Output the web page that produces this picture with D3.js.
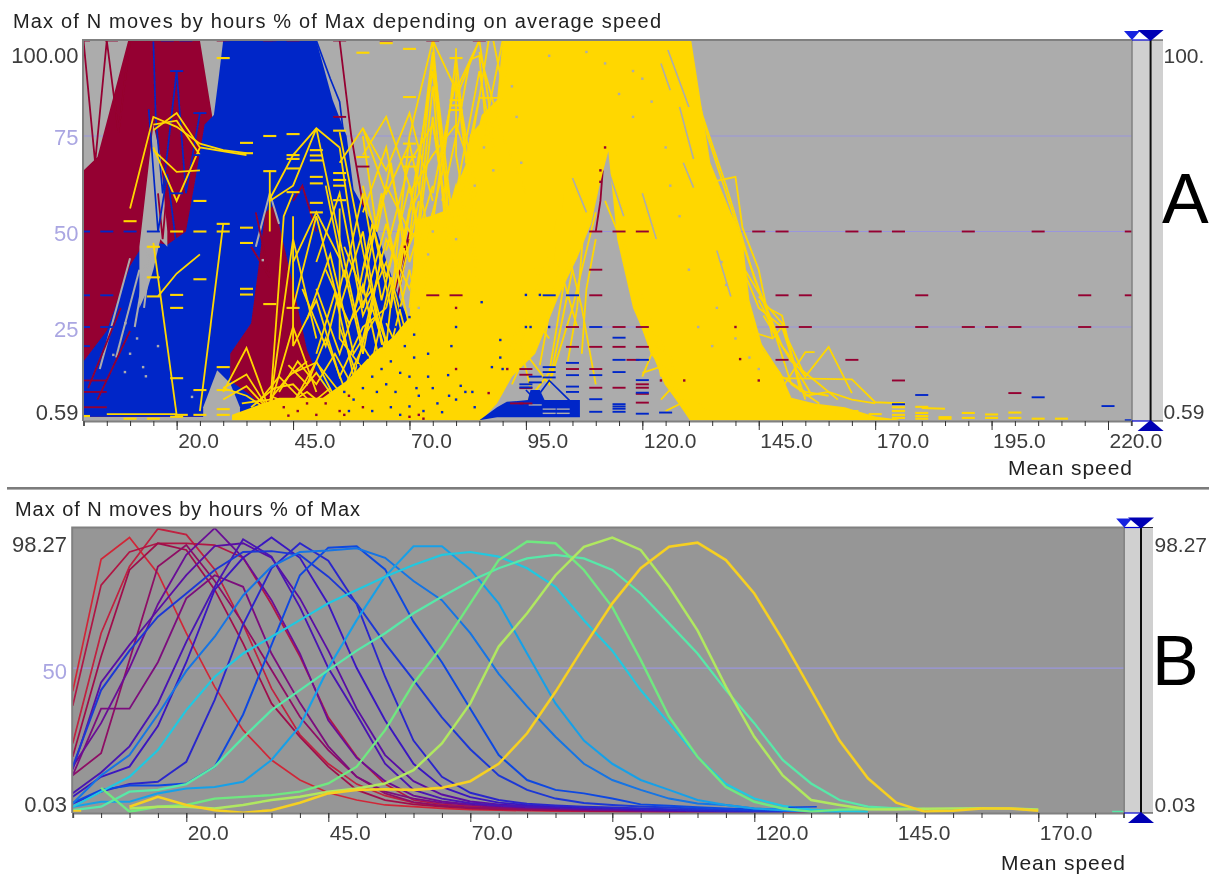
<!DOCTYPE html>
<html>
<head>
<meta charset="utf-8">
<style>
  html, body { margin: 0; padding: 0; background: #fff; }
  text { font-family: "Liberation Sans", Arial, sans-serif; }
</style>
<script src="https://cdn.jsdelivr.net/npm/d3@7/dist/d3.min.js"></script>
</head>
<body>
<svg id="chart" width="1216" height="877"></svg>
<script>
var titleA = "Max of N moves by hours % of Max depending on average speed";
var titleB = "Max of N moves by hours % of Max";
var xTitle = "Mean speed";
var speedTicks = [20, 45, 70, 95, 120, 145, 170, 195, 220];
var speedTicksB = [20, 45, 70, 95, 120, 145, 170];
var gridA = [25, 50, 75];
var gridB = [50];

// panel A, the solid masses where thousands of lines overlap: speed, upper and lower value
var redSpeed = [0, 3, 9.6, 25, 27.6, 28];
var redTop = [66, 69.5, 100, 100, 80.5, 60];

var blueSpeed = [0, 5, 10, 13, 16, 18, 22, 24, 26, 28, 29, 30, 50, 53.5, 56.5, 58, 63, 67, 72, 76, 78];
var blueTop = [16, 24, 41, 47, 47, 46.5, 50, 63.5, 78, 80.5, 90, 100, 100, 84.4, 75, 61, 50, 35, 20, 8, 1.5];

var redPatchSpeed = [31.5, 36, 37.5, 39, 41, 43.7, 48, 50.8, 53.6];
var redPatchTop = [18, 26, 40, 55, 57, 43, 19, 11, 6.6];
var redPatchBottom = [11, 7, 5, 4.5, 4, 3.5, 3, 3.5, 4];

var spireSpeed = [12, 13.5, 15, 16.5, 18];
var spireTop = [46, 62, 78, 70, 50];
var spireBottom = [30, 34, 40, 48, 46];

var gapSpeed = [25.7, 28.7, 31.5, 33.6];
var gapTop = [4, 13.7, 10.3, 4];
var gapBottom = [1, 1, 1, 1];

var massSpeed = [31.9, 38.5, 42, 51.4, 56.6, 62, 66.5, 70, 70.7, 71.2, 74.4, 78, 82, 83, 85, 85.5, 88.8, 90, 92, 97, 102, 106, 109, 111, 112.7, 114.6, 118, 122.3, 124.4, 130.2, 130.5, 133.5, 134.6, 141.6, 143, 146, 149.7, 152, 157, 163.5, 170, 175];
var massTop = [2, 5, 6.5, 6.5, 11, 18, 22.4, 27.6, 40, 53, 54, 55.6, 67.4, 75.3, 78, 80.5, 84.4, 100, 100, 100, 100, 100, 100, 100, 100, 100, 100, 100, 100, 100, 100, 76.5, 68, 47, 32, 19, 13, 6.5, 5, 4, 1.6, 0.8];
var massBottom = [0.6, 0.6, 0.6, 0.6, 0.6, 0.6, 0.6, 0.6, 0.6, 0.6, 0.6, 0.6, 0.6, 0.6, 0.6, 0.6, 5, 7.5, 12, 18, 33, 43, 52, 63, 71, 48, 30, 18, 11, 0.6, 0.6, 0.6, 0.6, 0.6, 0.6, 0.6, 0.6, 0.6, 0.6, 0.6, 0.6, 0.6];

var blueLowSpeed = [85, 88.8, 90.9, 95.4, 96, 98, 99, 106.6];
var blueLowTop = [0.6, 4, 5.4, 5.9, 8.5, 8.5, 5.9, 5.9];
var blueLowBottom = [0.6, 1.4, 1.4, 1.4, 1.4, 1.4, 1.4, 1.4];

// single lines that stay readable
var redLinesBack = [
  [[0, 100], [2.5, 68], [5, 100], [7.5, 76], [10, 100]],
  [[55, 100], [57.5, 75], [60, 57], [62.5, 42], [65, 25], [70, 50]],
  [[60, 30], [65, 12], [67.5, 33], [70, 48]]
];
var redLines = [
  [[110, 50], [111, 58], [111.5, 66]],
  [[0, 11], [5, 11]], [[0, 8], [5, 8]], [[0, 4], [5, 4]],
  [[1, 9], [8, 30]], [[3, 6], [10, 24]],
  [[16, 60], [17, 48], [18, 62]],
  [[37, 55], [40, 38], [36, 46]],
  [[45, 58], [47, 62], [50, 50]]
];
var blueLines = [
  [[15, 100], [15.5, 80], [17, 60], [20, 92], [22, 60], [25, 81]],
  [[14, 82], [16, 50], [18, 65], [20, 46]],
  [[50, 100], [53, 90], [55, 84], [56, 74]],
  [[60, 30], [62, 38], [64, 22], [66, 33]],
  [[63, 45], [65, 30], [67, 18]]
];
var blueLowLine = [[95, 8.5], [97, 6], [100, 11], [105, 5]];
var greyLinesBack = [
  [[3.5, 14], [10, 43]], [[7, 17], [12, 40]], [[11, 25], [14, 46]], [[13, 30], [15, 50]],
  [[37, 46], [40, 60], [42, 52]]
];
var greyLines = [
  [[125.5, 97.5], [130, 82.6]], [[124, 94], [126, 87]], [[128, 82.6], [131, 69]], [[128.8, 68], [131, 61.5]],
  [[113, 65], [116, 54]], [[105, 64], [108, 55]], [[120, 60], [123, 48]], [[136, 45], [139, 33]]
];
var greyStripes = [[100, 3.5], [103, 3.5], [103, 2.4], [100, 2.4], [97, 4.6]];
var yellowLines = [
  [[10, 56], [15, 80], [20, 77.4], [25, 73], [30, 71.3], [35, 70.5]],
  [[15, 76.5], [20, 81], [25, 72], [35, 70]],
  [[15, 71.3], [20, 65.6], [25, 66]],
  [[15, 72], [20, 58], [25, 72]],
  [[15, 78], [20, 79], [25, 70]],
  [[16, 33], [20, 39], [25, 44]],
  [[15, 47], [20, 2]],
  [[25, 3], [30, 52]],
  [[5, 2.2], [20, 2.2]],
  [[30, 8], [35, 19.5], [40, 3]],
  [[30, 9], [35, 12.6], [40, 3]],
  [[30, 6], [35, 9.5], [40, 3]],
  [[30, 9], [35, 7], [40, 3]],
  [[40, 4], [45, 48], [50, 22]],
  [[40, 4], [45, 25], [50, 8]],
  [[40, 3], [43, 54], [45, 60]],
  [[45, 13], [50, 15.7], [55, 8]],
  [[45, 5], [50, 16], [55, 4]],
  [[40, 58.5], [45, 70], [50, 77], [55, 72]],
  [[40, 58], [45, 62], [50, 77]],
  [[40, 66], [40, 50]],
  [[45, 42], [50, 55], [55, 43]],
  [[45, 54], [45, 20], [50, 32], [55, 12], [60, 25], [65, 30]],
  [[45, 30], [50, 54], [55, 30], [60, 50], [65, 14]],
  [[50, 77], [55, 48], [60, 20], [65, 10]],
  [[55, 76], [60, 45], [65, 15], [70, 40], [75, 12]],
  [[55, 72], [60, 30], [65, 52], [70, 25]],
  [[60, 77], [65, 60], [70, 73], [75, 45]],
  [[60, 70], [65, 80], [70, 62], [75, 35]],
  [[55, 68], [60, 77], [65, 66], [70, 81], [75, 58]],
  [[60, 55], [65, 72], [70, 42], [75, 62]],
  [[50, 42], [55, 60], [60, 28], [65, 42], [70, 14]],
  [[50, 35], [55, 18], [60, 36], [65, 8]],
  [[55, 25], [60, 8], [65, 22], [70, 5]],
  [[60, 62], [65, 38], [70, 62], [75, 28]],
  [[55, 56], [55, 22], [60, 14]],
  [[52, 40], [57, 26], [62, 35], [67, 12]],
  [[48, 27], [53, 44], [58, 18], [63, 28], [68, 10]],
  [[65, 20], [70, 75], [75, 100], [80, 30]],
  [[70, 48], [75, 97], [80, 45]],
  [[70, 30], [75, 88], [80, 20]],
  [[72, 50], [75, 80], [78, 52]],
  [[75, 100], [80, 87], [85, 100]],
  [[80, 98], [80, 70], [85, 35]],
  [[80, 85], [85, 100], [90, 60]],
  [[75, 60], [80, 90], [85, 55]],
  [[85, 97], [90, 75], [95, 60]],
  [[80, 50], [85, 85], [90, 85]],
  [[90, 100], [85, 70]],
  [[88, 100], [90, 88], [92, 100]],
  [[75, 40], [80, 62], [85, 40]],
  [[65, 30], [70, 55], [72, 60], [75, 95], [78, 60], [80, 25]],
  [[68, 40], [72, 70], [75, 92], [77, 70], [80, 48]],
  [[65, 45], [70, 68], [75, 78], [80, 40], [85, 25]],
  [[70, 60], [75, 70], [80, 78], [85, 60]],
  [[72, 40], [77, 65], [80, 96], [83, 60], [85, 30]],
  [[75, 52], [78, 78], [80, 90], [82, 70], [85, 48]],
  [[77, 58], [80, 75], [83, 95], [85, 96], [87, 70]],
  [[80, 60], [85, 92], [88, 72]],
  [[82, 68], [85, 85], [87, 100]],
  [[60, 40], [65, 62], [70, 50], [75, 45]],
  [[60, 22], [65, 48], [70, 35], [75, 55]],
  [[62, 16], [66, 38], [70, 20], [74, 40]],
  [[58, 28], [62, 52], [66, 30], [70, 56]],
  [[56, 46], [60, 34], [64, 60], [68, 36], [72, 58]],
  [[52, 62], [56, 38], [60, 60], [64, 32], [68, 52]],
  [[47, 35], [52, 20], [56, 40], [60, 18], [64, 44]],
  [[50, 18], [54, 34], [58, 12], [62, 30], [66, 14]],
  [[44, 15], [48, 10], [52, 22], [56, 9], [60, 20]],
  [[42, 8], [46, 16], [50, 10], [54, 18], [58, 9]],
  [[38, 6], [42, 12], [46, 7], [50, 13], [54, 6]],
  [[36, 4], [41, 9], [45, 10], [49, 5], [53, 9]],
  [[40, 7], [44, 5], [48, 8], [52, 4], [56, 7]],
  [[34, 5], [40, 6], [44, 12], [48, 16]],
  [[60, 75], [63, 50], [66, 68], [69, 44], [72, 52]],
  [[65, 26], [68, 18], [71, 30], [74, 16]],
  [[64, 6], [68, 24], [72, 14]],
  [[92, 10], [95, 18], [100, 10], [105, 40]],
  [[95, 5], [100, 13], [105, 50], [110, 60]],
  [[100, 10], [105, 30], [110, 55]],
  [[104, 45], [107, 30], [110, 10]],
  [[88, 7], [93, 24], [96, 9]],
  [[94, 20], [97, 40], [100, 30], [103, 60]],
  [[96, 32], [100, 45], [104, 70]],
  [[98, 15], [102, 42], [106, 25]],
  [[90, 10], [95, 30], [100, 22]],
  [[108, 60], [106, 30], [104, 16]],
  [[110, 48], [108, 35], [107, 18]],
  [[115, 52], [120, 25], [125, 10], [130, 2]],
  [[112, 58], [118, 40], [124, 18], [128, 6]],
  [[116, 48], [119, 35], [122, 28], [124, 12]],
  [[118, 32], [122, 18], [126, 12], [130, 3]],
  [[120, 13], [125, 15], [130, 2]],
  [[120, 12], [124, 24], [126, 8]],
  [[124, 6], [127, 10], [130, 2]],
  [[123, 20], [126, 18], [128, 5]],
  [[125, 3], [130, 6], [135, 3]],
  [[130, 95], [134, 75], [138, 60], [142, 45]],
  [[133, 80], [138, 62], [144, 38], [148, 25]],
  [[142, 40], [147, 30], [150, 28], [154, 8]],
  [[146, 28], [152, 16], [158, 10], [162, 6]],
  [[140, 25], [148, 22], [150, 25], [155, 12]],
  [[135, 63], [140, 64.3], [141.5, 51], [145, 40], [148, 22]],
  [[135, 63], [140, 52], [145, 35], [150, 20]],
  [[145, 32], [150, 20], [155, 12], [160, 19.8], [165, 7.7]],
  [[150, 11.6], [165, 11.3], [170, 5.3], [176, 5]],
  [[150, 9], [155, 18.4], [157, 18.4]],
  [[140, 45], [145, 30], [150, 25], [155, 6]],
  [[145, 33], [150, 26], [153, 14], [156, 8]],
  [[148, 25], [152, 10], [158, 5]],
  [[143, 25], [150, 12], [155, 8], [160, 7]],
  [[155, 7], [160, 8], [165, 6], [170, 5]],
  [[180, 3.8], [185, 3.6]]
];

var redDashes = [[165, 50], [170, 50], [175, 50], [190, 50], [205, 50], [225, 50], [145, 50], [150, 50], [110, 50], [115, 50], [120, 50],
  [150, 33.3], [155, 33.3], [180, 33.3], [215, 33.3], [225, 33.3], [110, 33.3], [110, 40],
  [155, 25], [180, 25], [190, 25], [195, 25], [200, 25], [215, 25], [150, 25], [105, 25], [115, 25], [120, 25],
  [165, 16.4], [150, 16.4], [118, 16.4], [175, 11], [200, 7.7],
  [105, 19.8], [110, 19.8], [115, 19.8], [120, 19.8], [105, 14], [110, 14],
  [110, 9.1], [115, 9.1], [120, 9.1], [120, 10], [120, 7.5], [120, 5.2],
  [55, 100], [65, 100], [75, 100], [85, 100], [55, 80], [60, 67], [45, 100], [30, 100], [40, 100], [15, 100], [0, 100], [6, 100],
  [80, 33.3], [75, 33.3], [95, 14], [95, 12.5], [95, 9], [93, 5], [95, 5]];
var blueDashes = [[180, 7.2], [205, 6.6], [220, 4.3], [175, 4.8], [105, 33.3], [100, 33.3], [110, 25], [115, 22.2],
  [115, 16.4], [120, 16.4], [105, 15.6], [115, 13.2], [105, 12.4], [110, 12.4], [120, 11.1], [105, 9.4], [105, 8], [110, 6.1],
  [115, 4.8], [115, 4.2], [115, 3.6], [115, 2.8], [110, 2.8], [120, 2.3], [120, 7.8], [95, 10], [95, 9.2], [97, 12], [97, 10.5],
  [100, 14.5], [100, 13.2], [100, 11.8], [125, 2.6], [20, 92], [25, 81], [0, 50], [5, 50], [10, 50], [15, 50], [0, 33.3], [5, 33.3], [0, 25], [5, 25], [0, 20],
  [20, 60], [25, 70], [32, 100], [37, 100], [42, 100], [48, 100], [22, 100], [18, 100], [225, 0.6]];
var yellowDashes = [[10, 52.7], [30, 95.4], [35, 73.2], [35, 70.5], [40, 75], [45, 75.5], [45, 70], [45, 69], [50, 71.3], [50, 69.9], [50, 68.6],
  [50, 64.3], [50, 62.6], [45, 66.5], [40, 65.8], [45, 60.3], [50, 57.5], [55, 76.4], [60, 96.8], [65, 99.3], [70, 97.8], [70, 85.2],
  [80, 95.4], [80, 84.4], [80, 83], [80, 81.8], [55, 65.3], [55, 63.5], [55, 62], [55, 58.2], [60, 69.5], [70, 73], [70, 69.5], [70, 67],
  [30, 52], [30, 50], [35, 51], [35, 47], [25, 58], [20, 33.4], [25, 37.5], [20, 50], [20, 30], [15, 46], [15, 38], [15, 33], [25, 50],
  [35, 35], [35, 33.5], [40, 31], [45, 30], [50, 55], [20, 11.6], [25, 8.5], [30, 14.5], [30, 8.5], [30, 3.5], [30, 2],
  [175, 5.1], [175, 4], [175, 3], [175, 2], [175, 1.2], [180, 4.1], [180, 2.5], [180, 1.7], [180, 1], [185, 1.4], [185, 1],
  [190, 2.5], [190, 1.2], [195, 2.1], [195, 1.2], [200, 2.6], [200, 1.2], [205, 1], [210, 1],
  [160, 2.5], [165, 3], [170, 2.2], [0, 1.7], [20, 1.5], [21, 2], [25, 2], [10, 1], [15, 1]];

var blueSpecks = [[70, 27.6], [71, 17], [80, 25], [85.5, 31.5], [95, 33.4], [98, 33.4], [95, 25], [89.5, 21.6], [89.5, 17], [87.7, 14.5],
  [78.3, 12.4], [81, 9.6], [83.5, 8], [78.5, 7], [71.5, 9], [70, 4.2], [77, 2.7], [67, 8], [68, 13], [66, 16], [64, 14], [72, 7], [75, 9],
  [73, 3], [76, 5], [80, 6], [82, 8], [84, 4], [69, 20], [71, 23], [74, 12], [62, 12], [60, 9], [58, 6], [56, 8], [59, 15], [63, 8], [66, 4],
  [68, 2], [62, 3], [57, 3], [70, 12], [65, 10], [61, 17], [64, 20], [67, 25], [68, 30], [79, 20], [96, 25], [74, 18], [90, 14], [100, 25]];
var redSpecks = [[80, 14], [91, 14], [87, 7.7], [140, 25], [141, 16.6], [145, 11], [124, 11], [129, 11], [112, 72], [111, 66], [111, 63],
  [72, 2], [70, 1.5], [60, 4], [55, 3], [50, 2], [48, 5], [46, 3], [43, 4], [44, 1.8], [52, 5], [56, 2], [57, 7], [73, 1], [80, 30], [69, 46]];
var greySpecks = [[6.4, 17.7], [8.9, 13.2], [12.8, 14.5], [13.4, 12.1], [11.5, 22], [23.3, 6.7], [38.5, 42.5], [10, 18], [9, 26], [16, 20],
  [120, 90], [122, 84], [118, 80], [125, 72], [126, 62], [128, 54], [118, 92], [112, 94], [115, 86], [100, 96], [108, 97], [92, 88], [93, 80], [94, 68],
  [86, 72], [88, 66], [84, 62], [80, 48], [74, 44], [137, 42], [138, 36], [136, 30], [140, 22], [143, 17], [145, 14], [135, 20], [72, 30], [75, 50], [66, 40], [130, 40], [132, 25]];

// panel B, one value every 5 of speed starting at speed 0, null where the curve has no point
var curves = [
  [42, 87.5, 95, 82.6, 62, 43.5, 28.6, 18.3, 11.4, 7, 4.5, 2.8, 2.2, 1.6, 1.2, 1, 0.8, 0.7, 0.6, 0.5, 0.5, 0.4, 0.4, 0.3, 0.3, 0.2, 0.2],
  [24, 62, 85, 98, 96, 84, 65, 43, 27, 17, 10, 6, 3.6, 2.4, 1.8, 1.5, 1.2, 1, 0.9, 0.7, 0.6, 0.5, 0.5, 0.4, 0.3, 0.3, 0.2],
  [37, 78.6, 90, 93, 93, 92.4, 88, 72, 54, 33, 19.4, 10, 4.5, 3, 2.4, 2, 1.6, 1.3, 1, 0.9, 0.8, 0.7, 0.6, 0.5, 0.4, 0.3, 0.2],
  [19.4, 54, 83.8, 93, 90.7, 77, 58.5, 37.8, 26.3, 16, 8, 4.5, 3, 2.2, 1.6, 1.3, 1.1, 0.9, 0.8, 0.7, 0.6, 0.5, 0.4, 0.4, 0.3],
  [13, 20.6, 52.8, 85, 92.4, 80, 65.4, 49.3, 33.2, 21.7, 12.5, 6.8, 3.8, 2.6, 2, 1.7, 1.4, 1.2, 1, 0.9, 0.8, 0.6, 0.5, 0.4, 0.3],
  [13, 36, 36, 52, 74, 82, 78, 55, 38, 23, 12.5, 7.4, 5, 3.5, 2.8, 2.2, 1.8, 1.5, 1.2, 1, 0.9, 0.8, 0.6, 0.5, 0.4],
  [16, 31, 50, 72, 89, 98.2, 88, 73.4, 55, 32, 19, 11, 6, 4, 3, 2.4, 1.9, 1.6, 1.3, 1.1, 0.9, 0.8, 0.7, 0.5, 0.4],
  [15, 45, 58, 70, 82, 92, 93, 88, 74, 56, 36, 20, 11, 6.4, 4, 3, 2.4, 2, 1.7, 1.4, 1.1, 0.9, 0.8, 0.6, 0.5],
  [6.8, 14, 23, 37.8, 59, 78, 94.4, 88.4, 71, 50, 34, 17, 8, 5, 3.4, 2.6, 2.2, 1.9, 1.6, 1.4, 1.2, 1, 0.8, 0.6, 0.5, 0.4],
  [5.6, 12.5, 16, 30, 52, 77, 88, 95, 88, 72, 50, 32, 17, 9, 5.5, 3.6, 2.8, 2.3, 2, 1.7, 1.4, 1.1, 0.9, 0.7, 0.6, 0.5],
  [3.3, 7.4, 10, 10.8, 17.7, 39, 65, 84.4, 93, 87, 72, 47, 25, 12.5, 7, 4.5, 3.2, 2.6, 2.2, 1.9, 1.6, 1.3, 1, 0.8, 0.6, 0.5],
  [16, 42.4, 56, 67.7, 75.7, 83.8, 90, 90.3, 89, 81.5, 72.3, 58.5, 45.9, 33, 22, 13, 8, 5, 3.5, 2.8, 2.3, 1.9, 1.5, 1.2, 0.9, 0.7, 0.5],
  [3.5, 8, 9.5, 9.5, 10.2, 16, 34, 58, 82, 91.5, 92, 84, 66, 52, 36, 20, 11.4, 8, 6.8, 5, 3, 2.5, 2, 1.6, 1.2, 0.9, 0.6],
  [3.3, 13, 20, 34, 49, 60.8, 75, 85, 90, 90.5, 91.3, 88, 80, 73.4, 62, 48, 36.7, 26.3, 17, 11.4, 8, 5, 3.3, 2.8, 1.6, 1.2, 0.8, 0.5],
  [2.2, 3.9, 3.9, 6.8, 8.5, 9, 10.8, 18.3, 30, 50, 66.5, 81.5, 92, 92, 84, 72.3, 55, 37.8, 25, 17, 11.4, 8, 4.5, 2.8, 1.6, 1, 0.6, 0.4],
  [2.2, 7.4, 12.5, 21.7, 35.5, 47, 55, 60.8, 66.5, 72.3, 76.9, 81.5, 85.5, 89, 90, 88.4, 84.4, 78, 66.5, 56, 42.4, 31, 19.4, 10, 5, 2.5, 1.2, 0.7, 0.4],
  [1, 2.2, 7.4, 8, 10, 16, 26, 35.5, 42.4, 49.3, 56, 62, 68.9, 74.6, 80, 84.4, 87.8, 89, 87.8, 83.8, 75.7, 65.4, 55, 42.4, 31, 18.3, 10.2, 4.5, 2.2, 1.6, 1.2, null, null],
  [null, 8.7, 0.5, 2.2, 2.8, 5, 5.6, 6.2, 7.4, 10.2, 16, 28.6, 44.7, 57.4, 72.3, 87.2, 93.6, 93, 83.8, 71, 52.8, 33.2, 19.4, 9, 3.9, 1.6, 0.5, 1.2, 1.4, 1.5, 1.4],
  [null, null, 1.6, 2.2, 2.2, 1.6, 2.8, 4.5, 5.6, 7.4, 8.5, 10.2, 14.8, 24, 37.8, 57.4, 68.9, 82, 91.8, 95, 90.7, 78, 63, 43.6, 26.3, 13, 4.5, 2.8, 1.3, 1.2, 1.5, 1.6, 1.7, 1.6, 1.2],
  [null, null, 2.2, 5.6, 2.8, 1, 0.1, 1, 3.6, 6.8, 8, 8.2, 8, 8.7, 11, 17, 27.5, 41.8, 57.4, 72.3, 84.4, 91.8, 93.2, 87.2, 75.7, 59.7, 42.4, 25, 12, 3.6, 0.5, 0.8, 1.6, 1.6, 0.8]
];
var strayYellow = [[0, 0.8], [1.5, 0.8]];
var strayGreen = [[183, 0.5], [185, 0.5]];
var strayBlue = [[126, 2], [131, 2.2]];

var svg = d3.select("#chart");
var defs = svg.append("defs");
defs.append("filter").attr("id", "soft")
  .append("feGaussianBlur").attr("stdDeviation", 0.5);

var root = svg.append("g").attr("filter", "url(#soft)");
var inkGrey = "#3c3c3c", gridBlue = "#9a96dc", labelBlue = "#aaa6e2";
var red = "#950030", blue = "#0228c8", yellow = "#ffd700", bgA = "#acacac", bgB = "#969696";

var xA = d3.scaleLinear().domain([0, 225]).range([83.5, 1131.3]);
var yA = d3.scaleLinear().domain([0, 100]).range([422.5, 40.5]);
var xB = d3.scaleLinear().domain([0, 185]).range([72.7, 1123.5]);
var yB = d3.scaleLinear().domain([0.03, 98.27]).range([813, 528]);

// separator between the two panels
root.append("rect").attr("x", 7).attr("y", 487).attr("width", 1202).attr("height", 2.6).attr("fill", "#7c7c7c");

function panelFrame(id, x, y, title, titleX, titleWidth, bg, grid, ticks) {
  var box = { l: x.range()[0] - 0.5, r: x.range()[1] + 0.7, t: y.range()[1] - 0.5, b: y.range()[0] };
  if (id == "a") box.b = 421;
  defs.append("clipPath").attr("id", "clip-" + id).append("rect")
    .attr("x", box.l).attr("y", box.t).attr("width", box.r - box.l).attr("height", box.b - box.t);
  root.append("rect").attr("x", box.l).attr("y", box.t).attr("width", box.r - box.l).attr("height", box.b - box.t).attr("fill", bg);
  root.append("text").attr("x", titleX).attr("y", box.t - 12)
    .attr("font-size", 20).attr("fill", "#222").attr("textLength", titleWidth).text(title);

  var plot = root.append("g").attr("clip-path", "url(#clip-" + id + ")");
  plot.selectAll("line.grid").data(grid).enter().append("line").attr("class", "grid")
    .attr("x1", box.l).attr("x2", box.r)
    .attr("y1", function(d) { return y(d); }).attr("y2", function(d) { return y(d); })
    .attr("stroke", gridBlue).attr("stroke-width", 1.2);

  // minor ticks every 5, majors every 25 carrying a label that starts at the tick
  var minor = d3.range(0, x.domain()[1] + 1, 5);
  var axisMinor = d3.axisBottom(x).tickValues(minor).tickSize(5).tickFormat("");
  var axisMajor = d3.axisBottom(x).tickValues(ticks).tickSize(9).tickFormat(d3.format(".1f"));
  var gm = root.append("g").attr("transform", "translate(0," + box.b + ")").call(axisMinor);
  var gj = root.append("g").attr("transform", "translate(0," + box.b + ")").call(axisMajor);
  gm.select(".domain").attr("stroke", "#808080").attr("stroke-width", 2);
  gj.select(".domain").remove();
  gm.selectAll("line").attr("stroke", "#333");
  gj.selectAll("line").attr("stroke", "#333").attr("y2", 9);
  gj.selectAll("text").attr("text-anchor", "start").attr("x", 1).attr("y", 27).attr("dy", 0)
    .attr("font-size", 21).attr("font-family", "'Liberation Sans', Arial, sans-serif").attr("fill", inkGrey);

  // top and left edge
  root.append("path").attr("d", "M" + box.l + "," + box.b + "V" + box.t + "H" + box.r)
    .attr("fill", "none").attr("stroke", "#808080").attr("stroke-width", 2);
  return { plot: plot, box: box };
}

function sideBar(box, lineX, barR, labels, letter, letterX, letterY, labelX) {
  root.append("rect").attr("x", box.r).attr("y", box.t).attr("width", barR - box.r).attr("height", box.b - box.t).attr("fill", "#d0d0d0");
  root.append("line").attr("x1", box.r).attr("x2", box.r).attr("y1", box.t).attr("y2", box.b).attr("stroke", "#808080").attr("stroke-width", 1.5);
  root.append("line").attr("x1", lineX).attr("x2", lineX).attr("y1", box.t).attr("y2", box.b).attr("stroke", "#111").attr("stroke-width", 2);
  root.append("line").attr("x1", box.r).attr("x2", lineX).attr("y1", box.t).attr("y2", box.t).attr("stroke", "#0000d0").attr("stroke-width", 1.2);
  root.append("line").attr("x1", box.r).attr("x2", lineX).attr("y1", box.b).attr("y2", box.b).attr("stroke", "#0000d0").attr("stroke-width", 1.2);
  root.append("line").attr("x1", lineX).attr("x2", barR).attr("y1", box.t).attr("y2", box.t).attr("stroke", "#333");
  root.append("line").attr("x1", lineX).attr("x2", barR).attr("y1", box.b).attr("y2", box.b).attr("stroke", "#333");
  var tri = [
    [[box.r - 8, box.t - 9], [box.r + 8, box.t - 9], [box.r, box.t]],
    [[lineX - 13, box.t - 10], [lineX + 13, box.t - 10], [lineX, box.t + 1]],
    [[lineX - 13, box.b + 10], [lineX + 13, box.b + 10], [lineX, box.b - 1]]
  ];
  root.selectAll(null).data(tri).enter().append("path")
    .attr("d", function(d) { return d3.line()(d) + "Z"; })
    .attr("fill", function(d, i) { return i == 0 ? "#1420e0" : "#0000b4"; });
  root.selectAll(null).data(labels).enter().append("text")
    .attr("x", labelX).attr("y", function(d) { return d.y; })
    .attr("font-size", 21).attr("fill", inkGrey).text(function(d) { return d.t; });
  root.append("text").attr("x", letterX).attr("y", letterY).attr("font-size", 70).attr("fill", "#000").text(letter);
}

function leftLabels(labels, right) {
  root.selectAll(null).data(labels).enter().append("text")
    .attr("x", right).attr("y", function(d) { return d.y; }).attr("text-anchor", "end")
    .attr("font-size", 22).attr("fill", function(d) { return d.c; }).text(function(d) { return d.t; });
}

// ---- panel A
var frameA = panelFrame("a", xA, yA, titleA, 13, 648, bgA, gridA, speedTicks);
var pa = frameA.plot;
var lineA = d3.line().x(function(d) { return xA(d[0]); }).y(function(d) { return yA(d[1]); });

function massA(speed, top, bottom, colour) {
  var area = d3.area()
    .x(function(d, i) { return xA(speed[i]); })
    .y1(function(d, i) { return yA(top[i]); })
    .y0(function(d, i) { return yA(typeof bottom == "number" ? bottom : bottom[i]); });
  pa.append("path").datum(speed).attr("d", area).attr("fill", colour);
}
function linesA(list, colour, width) {
  pa.selectAll(null).data(list).enter().append("path")
    .attr("d", lineA).attr("fill", "none").attr("stroke", colour).attr("stroke-width", width);
}
function dashesA(list, colour, width) {
  pa.selectAll(null).data(list).enter().append("line")
    .attr("x1", function(d) { return xA(d[0] - 1.4); }).attr("x2", function(d) { return xA(d[0] + 1.4); })
    .attr("y1", function(d) { return yA(d[1]); }).attr("y2", function(d) { return yA(d[1]); })
    .attr("stroke", colour).attr("stroke-width", width);
}
function specksA(list, colour) {
  pa.selectAll(null).data(list).enter().append("rect")
    .attr("x", function(d) { return xA(d[0]) - 1.2; }).attr("y", function(d) { return yA(d[1]) - 1.2; })
    .attr("width", 2.4).attr("height", 2.4).attr("fill", colour);
}

massA(redSpeed, redTop, 1.5, red);
linesA(redLinesBack, red, 1.8);
massA(blueSpeed, blueTop, 1.5, blue);
massA(redPatchSpeed, redPatchTop, redPatchBottom, red);
massA(spireSpeed, spireTop, spireBottom, bgA);
massA(gapSpeed, gapTop, gapBottom, bgA);
linesA(greyLinesBack, bgA, 2);
linesA(redLines, red, 1.8);
linesA(blueLines, blue, 1.7);
massA(massSpeed, massTop, massBottom, yellow);
linesA(yellowLines, yellow, 1.8);
linesA(greyLines, bgA, 1.6);
massA(blueLowSpeed, blueLowTop, blueLowBottom, blue);
linesA([blueLowLine], blue, 1.7);
dashesA(greyStripes, bgA, 1.4);
dashesA(yellowDashes, yellow, 2.1);
dashesA(redDashes, red, 1.9);
dashesA(blueDashes, blue, 1.9);
specksA(greySpecks, bgA);
specksA(blueSpecks, blue);
specksA(redSpecks, red);

leftLabels([
  { t: "100.00", y: yA(100) + 22, c: inkGrey },
  { t: "75", y: yA(75) + 9, c: labelBlue },
  { t: "50", y: yA(50) + 9, c: labelBlue },
  { t: "25", y: yA(25) + 9.5, c: labelBlue },
  { t: "0.59", y: 420, c: inkGrey }
], 78.5);
sideBar(frameA.box, 1150.6, 1163, [{ t: "100.", y: 63 }, { t: "0.59", y: 419 }], "A", 1162, 223, 1163.5);
root.append("text").attr("x", 1008).attr("y", 475).attr("font-size", 21).attr("fill", "#222").attr("textLength", 124).text(xTitle);

// ---- panel B
var frameB = panelFrame("b", xB, yB, titleB, 15, 345, bgB, gridB, speedTicksB);
var pb = frameB.plot;
var hue = d3.scaleLinear()
  .domain([0, 3, 6, 9, 12, 14, 15, 16, 17, 18, 19])
  .range(["#d02838", "#a0104c", "#6a0e96", "#3a18c0", "#1048e0", "#18a0e8", "#20c8e0", "#58e8a8", "#70e880", "#b0e860", "#f6d020"]);
var widthB = d3.scaleLinear().domain([0, 13, 19]).range([1.7, 2, 2.6]);
var curveLine = d3.line()
  .defined(function(d) { return d != null; })
  .x(function(d, i) { return xB(i * 5); })
  .y(function(d) { return yB(d); });

pb.selectAll("path.curve").data(curves).enter().append("path").attr("class", "curve")
  .attr("d", curveLine).attr("fill", "none")
  .attr("stroke", function(d, i) { return hue(i); })
  .attr("stroke-width", function(d, i) { return widthB(i); });

var strayLine = d3.line().x(function(d) { return xB(d[0]); }).y(function(d) { return yB(d[1]); });
pb.append("path").attr("d", strayLine(strayYellow)).attr("stroke", "#f6d020").attr("stroke-width", 2).attr("fill", "none");
pb.append("path").attr("d", strayLine(strayGreen)).attr("stroke", "#58e8a8").attr("stroke-width", 1.6).attr("fill", "none");
pb.append("path").attr("d", strayLine(strayBlue)).attr("stroke", "#1048e0").attr("stroke-width", 1.6).attr("fill", "none");

leftLabels([
  { t: "98.27", y: 552, c: inkGrey },
  { t: "50", y: 679, c: labelBlue },
  { t: "0.03", y: 812, c: inkGrey }
], 67);
sideBar(frameB.box, 1141, 1153, [{ t: "98.27", y: 552 }, { t: "0.03", y: 812 }], "B", 1152, 685, 1154.5);
root.append("text").attr("x", 1001).attr("y", 870).attr("font-size", 21).attr("fill", "#222").attr("textLength", 124).text(xTitle);
</script>
</body>
</html>
